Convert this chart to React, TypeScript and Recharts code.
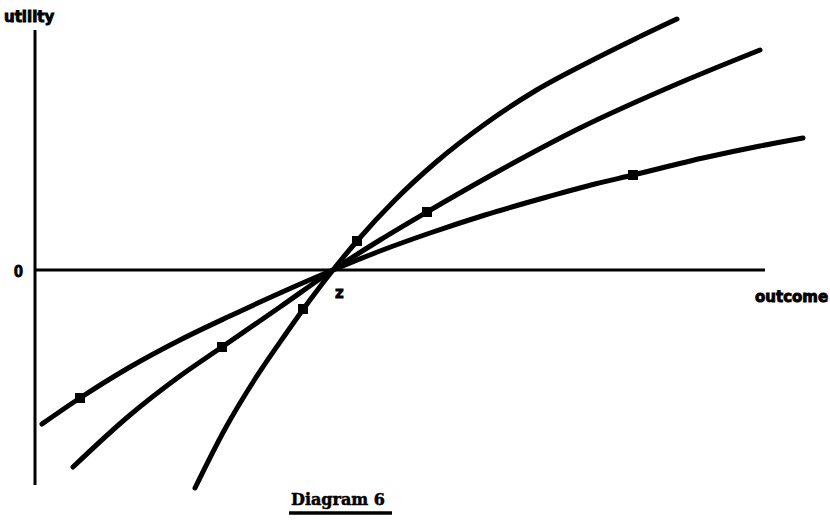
import React from "react";
import {
  ComposedChart,
  Line,
  Scatter,
  XAxis,
  YAxis,
  ReferenceLine,
  Customized,
} from "recharts";

// outcome (x) measured from the utility axis, utility (y) measured from 0
const curveSteep = [
  { x: 160, y: -218 }, { x: 190, y: -159 }, { x: 220, y: -109 }, { x: 250, y: -65 },
  { x: 275, y: -30 }, { x: 298, y: 0 }, { x: 322, y: 29 }, { x: 360, y: 70 },
  { x: 400, y: 107 }, { x: 450, y: 146 }, { x: 500, y: 179 }, { x: 550, y: 206 },
  { x: 600, y: 231 }, { x: 642, y: 251 },
];
const curveMiddle = [
  { x: 38, y: -197 }, { x: 95, y: -145 }, { x: 145, y: -106 }, { x: 187, y: -77 },
  { x: 245, y: -37 }, { x: 298, y: 0 }, { x: 345, y: 30 }, { x: 392, y: 58 },
  { x: 462, y: 98 }, { x: 545, y: 142 }, { x: 635, y: 183 }, { x: 725, y: 220 },
];
const curveFlat = [
  { x: 7, y: -154 }, { x: 45, y: -128 }, { x: 95, y: -97 }, { x: 145, y: -70 },
  { x: 195, y: -46 }, { x: 245, y: -23 }, { x: 298, y: 0 }, { x: 345, y: 19 },
  { x: 395, y: 37 }, { x: 450, y: 55 }, { x: 512, y: 73 }, { x: 560, y: 86 },
  { x: 598, y: 95 }, { x: 668, y: 112 }, { x: 725, y: 124 }, { x: 768, y: 132 },
];
const markers = [
  { x: 268, y: -39 }, { x: 322, y: 29 },
  { x: 187, y: -77 }, { x: 392, y: 58 },
  { x: 45, y: -128 }, { x: 598, y: 95 },
];
const axisTop = 240;
const axisBottom = -215;
const axisRight = 730;

const Square = (props: any) => {
  const { cx, cy } = props;
  return <rect x={cx - 5} y={cy - 5} width={10} height={10} fill="#000" />;
};

const heavy = { fontFamily: "DejaVu Sans", fontWeight: 700, fill: "#000", stroke: "#000", strokeWidth: 0.9 };

const Texts = () => (
  <g>
    <text x={4} y={22} fontSize={15} {...heavy}>utility</text>
    <text x={14} y={277} fontSize={16} {...heavy} fontFamily="Liberation Sans">0</text>
    <text x={335} y={298} fontSize={15} {...heavy}>z</text>
    <text x={755} y={302} fontSize={15} {...heavy}>outcome</text>
    <text x={291} y={505} fontSize={16} fontFamily="DejaVu Serif" fontWeight={700} fill="#000"
      stroke="#000" strokeWidth={0.5}>
      Diagram 6
    </text>
    <line x1={289} y1={513} x2={392} y2={513} stroke="#000" strokeWidth={3.5} />
  </g>
);

export default function App() {
  return (
    <div style={{ position: "absolute", left: 0, top: 0, background: "#fff" }}>
      <ComposedChart width={830} height={521} margin={{ top: 0, right: 0, bottom: 0, left: 0 }}>
        <XAxis type="number" dataKey="x" domain={[-35, 795]} hide allowDataOverflow />
        <YAxis type="number" dataKey="y" domain={[-251, 270]} hide allowDataOverflow />
        <ReferenceLine
          segment={[{ x: 0, y: axisBottom }, { x: 0, y: axisTop }]}
          stroke="#000"
          strokeWidth={3}
          ifOverflow="visible"
        />
        <ReferenceLine
          segment={[{ x: 0, y: 0 }, { x: axisRight, y: 0 }]}
          stroke="#000"
          strokeWidth={3}
          ifOverflow="visible"
        />
        <Line data={curveSteep} dataKey="y" type="monotone" stroke="#000" strokeWidth={5}
          strokeLinecap="round" dot={false} activeDot={false} isAnimationActive={false} />
        <Line data={curveMiddle} dataKey="y" type="monotone" stroke="#000" strokeWidth={5}
          strokeLinecap="round" dot={false} activeDot={false} isAnimationActive={false} />
        <Line data={curveFlat} dataKey="y" type="monotone" stroke="#000" strokeWidth={5}
          strokeLinecap="round" dot={false} activeDot={false} isAnimationActive={false} />
        <Scatter data={markers} dataKey="y" shape={Square} isAnimationActive={false} />
        <Customized component={Texts} />
      </ComposedChart>
    </div>
  );
}
